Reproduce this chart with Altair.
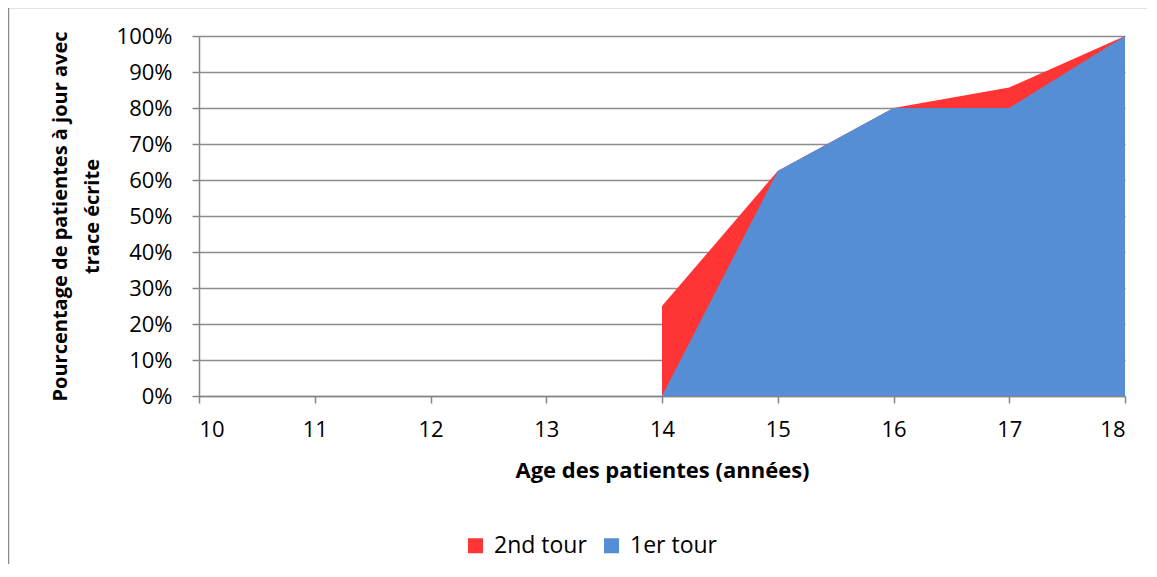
import altair as alt
import pandas as pd

ages = [10, 11, 12, 13, 14, 15, 16, 17, 18]
second_tour = [None, None, None, None, 0.25, 0.625, 0.80, 0.857, 1.00]
first_tour = [0, 0, 0, 0, 0.0, 0.625, 0.80, 0.80, 1.00]
series_names = ["2nd tour", "1er tour"]
series_colors = ["#FF3535", "#558ED5"]
y_ticks = [0, 0.1, 0.2, 0.3, 0.4, 0.5, 0.6, 0.7, 0.8, 0.9, 1.0]

rows = []
for a, v in zip(ages, second_tour):
    rows.append({"age": a, "val": v, "serie": "2nd tour"})
for a, v in zip(ages, first_tour):
    rows.append({"age": a, "val": v, "serie": "1er tour"})
df = pd.DataFrame(rows)

FONT = "Open Sans"
W, H = 926, 360

color = alt.Color(
    "serie:N",
    scale=alt.Scale(domain=series_names, range=series_colors),
    legend=alt.Legend(
        title=None,
        orient="none",
        direction="horizontal",
        legendX=265,
        legendY=498,
        symbolType="square",
        symbolSize=225,
        symbolStrokeWidth=0,
        labelFont=FONT,
        labelFontSize=23,
        labelColor="#000000",
        labelOffset=7,
        columnPadding=13,
        padding=0,
    ),
)

x = alt.X(
    "age:Q",
    scale=alt.Scale(domain=[10, 18], nice=False, zero=False),
    axis=alt.Axis(
        title="Age des patientes (années)",
        values=ages,
        format="d",
        grid=False,
        tickSize=7,
        labelPadding=16,
        titlePadding=20,
    ),
)
y = alt.Y(
    "val:Q",
    scale=alt.Scale(domain=[0, 1], nice=False),
    stack=None,
    axis=alt.Axis(
        title=["Pourcentage de patientes à jour avec", "trace écrite"],
        values=y_ticks,
        format=".0%",
        grid=True,
        tickSize=7,
        labelPadding=20,
        titlePadding=14,
        titleFontSize=20,
        titleLineHeight=32,
    ),
)

red = alt.Chart(df).transform_filter(alt.datum.serie == "2nd tour").mark_area(opacity=1).encode(
    x=x, y=y, color=color
)
blue = alt.Chart(df).transform_filter(alt.datum.serie == "1er tour").mark_area(opacity=1).encode(
    x=x, y=y, color=color
)

frame = alt.Chart(pd.DataFrame({"a": [0]})).mark_rect(
    fill=None, stroke="#8a8a8a", strokeWidth=1.5
).encode(
    x=alt.value(-190.5), x2=alt.value(3000), y=alt.value(-28.5), y2=alt.value(3000)
)

chart = alt.layer(red, blue, frame).properties(
    width=W,
    height=H,
    autosize=alt.AutoSizeParams(type="none"),
    padding={"left": 191, "top": 28, "right": 22, "bottom": 168},
).configure_axis(
    labelFont=FONT,
    labelFontSize=22,
    labelColor="#000000",
    titleFont=FONT,
    titleFontSize=22,
    titleFontWeight="bold",
    titleColor="#000000",
    domainColor="#868686",
    domainWidth=1.5,
    tickColor="#868686",
    tickWidth=1.5,
    gridColor="#8c8c8c",
    gridWidth=1.5,
).configure_view(stroke=None)

chart.save("out.html", embed_options={"renderer": "svg", "actions": False})
